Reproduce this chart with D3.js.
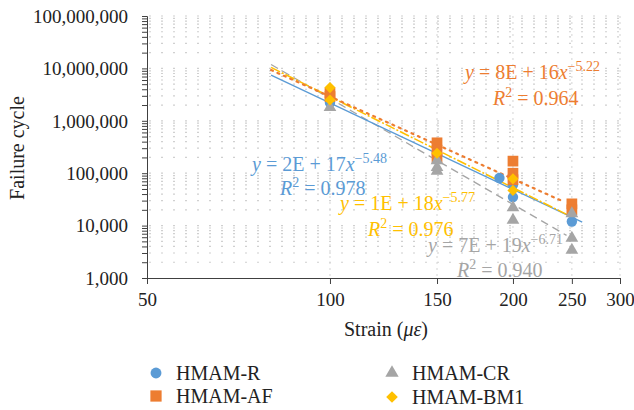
<!DOCTYPE html>
<html><head><meta charset="utf-8">
<script src="https://cdn.jsdelivr.net/npm/d3@7"></script>
<style>body{margin:0;background:#fff}svg{display:block}text{font-family:"Liberation Serif","Times New Roman",serif}</style>
</head><body><svg id="c" width="634" height="410"></svg>
<script>
const xTicks = [50, 100, 150, 200, 250, 300];
const yTicks = [1e3, 1e4, 1e5, 1e6, 1e7, 1e8];
const seriesNames = ["HMAM-R", "HMAM-AF", "HMAM-CR", "HMAM-BM1"];
const colors = ["#5B9BD5", "#ED7D31", "#A5A5A5", "#FFC000"];
const rX = [100, 190, 200, 200, 250];
const rY = [2.2e6, 8.1e4, 6.0e4, 3.5e4, 1.2e4];
const afX = [100, 100, 150, 150, 150, 200, 200, 200, 250, 250];
const afY = [3.4e6, 2.9e6, 3.8e5, 2.75e5, 2.0e5, 1.7e5, 1.0e5, 7.5e4, 2.6e4, 2.0e4];
const crX = [100, 150, 150, 150, 200, 200, 250, 250, 250];
const crY = [1.8e6, 1.75e5, 1.3e5, 1.1e5, 2.2e4, 1.27e4, 1.7e4, 5.8e3, 3.4e3];
const bmX = [100, 100, 150, 200, 200];
const bmY = [4.3e6, 2.5e6, 2.4e5, 7.8e4, 4.7e4];
const trendA = [2e17, 8e16, 7e19, 1e18];
const trendB = [-5.48, -5.22, -6.71, -5.77];
const trendRange = [[80, 260], [80, 243], [80, 245], [80, 250]];
const eqCoef = ["2E + 17", "8E + 16", "7E + 19", "1E + 18"];
const eqExp = ["−5.48", "−5.22", "−6.71", "−5.77"];
const eqR2 = ["0.978", "0.964", "0.940", "0.976"];

const svg = d3.select("#c");
const x = d3.scaleLog().domain([50, 300]).range([147, 620]);
const y = d3.scaleLog().domain([1e3, 1e8]).range([278, 16]);

// grid
const yMinor = [];
for (let d = 1e3; d < 1e8; d *= 10) for (let k = 1; k <= 9; k++) yMinor.push(d * k);
yMinor.push(1e8);
svg.append("g").selectAll("line").data(yMinor.filter(v => v > 1e3)).join("line")
  .attr("x1", 149).attr("x2", 620).attr("y1", d => y(d)).attr("y2", d => y(d))
  .attr("stroke", "#d0d0d0").attr("stroke-width", 1.2).attr("stroke-dasharray", "2,10");
svg.append("g").selectAll("line").data(xTicks.slice(1)).join("line")
  .attr("x1", d => x(d)).attr("x2", d => x(d)).attr("y1", 16).attr("y2", 278)
  .attr("stroke", "#d8d8d8").attr("stroke-width", 1.1).attr("stroke-dasharray", "2,4");

// axes
const yAx = svg.append("g").attr("transform", "translate(147,0)")
  .call(d3.axisLeft(y).tickValues(yMinor).tickSize(5).tickFormat(d => yTicks.includes(d) ? d3.format(",")(d) : ""));
yAx.select(".domain").attr("stroke", "#404040");
yAx.selectAll(".tick line").attr("stroke", "#404040");
yAx.selectAll("text").attr("font-size", 19).attr("fill", "#222").attr("x", -19).attr("dy", "0.33em")
  .style("font-family", '"Liberation Serif",serif');
const xAx = svg.append("g").attr("transform", "translate(0,278)")
  .call(d3.axisBottom(x).tickValues(xTicks).tickSize(6).tickFormat(d3.format("d")));
xAx.select(".domain").attr("stroke", "#404040");
xAx.selectAll(".tick line").attr("stroke", "#404040");
xAx.selectAll("text").attr("font-size", 19).attr("fill", "#222").attr("y", 14).attr("dy", "0.72em")
  .style("font-family", '"Liberation Serif",serif');

// axis titles
svg.append("text").attr("transform", "translate(24,148) rotate(-90)").attr("text-anchor", "middle")
  .attr("font-size", 20).attr("fill", "#222").text("Failure cycle");
const xt = svg.append("text").attr("x", 386).attr("y", 336).attr("text-anchor", "middle")
  .attr("font-size", 20).attr("fill", "#222");
xt.append("tspan").text("Strain (");
xt.append("tspan").attr("font-style", "italic").text("με");
xt.append("tspan").text(")");

// trendlines
const dashes = [null, "2,5", "8,5", "10,2,2,2"];
const lw = [1.3, 2.2, 1.3, 1.6];
const tOrder = [2, 0, 3, 1];
tOrder.forEach(i => {
  const pts = trendRange[i].map(v => [x(v), y(trendA[i] * Math.pow(v, trendB[i]))]);
  svg.append("path").attr("d", d3.line()(pts)).attr("fill", "none")
    .attr("stroke", colors[i]).attr("stroke-width", lw[i])
    .attr("stroke-dasharray", dashes[i]).attr("stroke-linecap", i === 1 ? "round" : "butt");
});

// markers
const symTypes = [d3.symbolCircle, d3.symbolSquare, d3.symbolTriangle, d3.symbolSquare];
const symSizes = [85, 115, 70, 62];
const symRot = [0, 0, 0, 45];
const data = [[rX, rY], [afX, afY], [crX, crY], [bmX, bmY]];
data.forEach(([xs, ys], i) => {
  const sym = d3.symbol().type(symTypes[i]).size(symSizes[i]);
  svg.append("g").selectAll("path").data(xs.map((v, j) => [v, ys[j]])).join("path")
    .attr("transform", d => `translate(${x(d[0])},${y(d[1])}) rotate(${symRot[i]})`)
    .attr("d", sym).attr("fill", colors[i]);
});

// equations
const eqPos = [[252, 171, 280, 195], [465, 79, 493, 105], [428, 252, 457, 277], [340, 210, 368, 236]];
[2, 3, 0, 1].forEach(i => {
  const [ex, ey, rx, ry] = eqPos[i];
  const t = svg.append("text").attr("x", ex).attr("y", ey).attr("font-size", 20).attr("fill", colors[i]);
  t.append("tspan").attr("font-style", "italic").text("y");
  t.append("tspan").text(" = " + eqCoef[i]);
  t.append("tspan").attr("font-style", "italic").text("x");
  t.append("tspan").attr("dy", -8).attr("font-size", 14).text(eqExp[i]);
  const r = svg.append("text").attr("x", rx).attr("y", ry).attr("font-size", 20).attr("fill", colors[i]);
  r.append("tspan").attr("font-style", "italic").text("R");
  r.append("tspan").attr("dy", -8).attr("font-size", 14).text("2");
  r.append("tspan").attr("dy", 8).text(" = " + eqR2[i]);
});

// legend
const legPos = [[156, 373], [156, 396], [392, 373], [392, 397]];
seriesNames.forEach((n, i) => {
  const [lx, ly] = legPos[i];
  svg.append("path").attr("transform", `translate(${lx},${ly}) rotate(${symRot[i]})`)
    .attr("d", d3.symbol().type(symTypes[i]).size(symSizes[i] * 1.1)).attr("fill", colors[i]);
  svg.append("text").attr("x", lx + 20).attr("y", ly + 7).attr("font-size", 20).attr("fill", "#222").text(n);
});
</script></body></html>
